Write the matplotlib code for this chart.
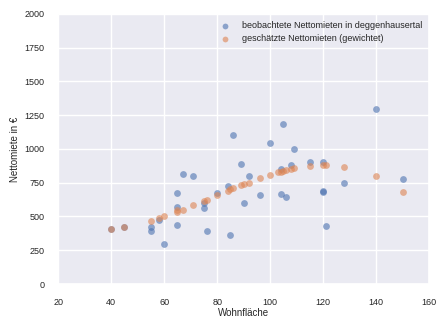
import matplotlib
matplotlib.use("Agg")
import matplotlib.pyplot as plt
import seaborn as sns

# beobachtete Werte
flaeche_beob = [40, 45, 55, 55, 58, 60, 65, 65, 65, 67, 71, 75, 75, 76, 80, 84, 85, 86,
                89, 90, 92, 96, 100, 104, 104, 105, 106, 108, 109, 115, 120, 120, 120,
                121, 128, 140, 150]
miete_beob = [405, 420, 425, 395, 475, 298, 676, 573, 438, 814, 799, 600, 561, 390, 677,
              727, 365, 1100, 887, 598, 799, 660, 1045, 850, 667, 1188, 647, 880, 998,
              900, 900, 692, 683, 426, 750, 1298, 775]

# geschätzte Werte (gewichtet)
flaeche_schaetz = [40, 45, 55, 58, 60, 65, 65, 67, 71, 75, 76, 80, 84, 85, 86, 89, 90, 92,
                   96, 100, 103, 104, 105, 106, 108, 109, 115, 120, 121, 128, 140, 150]
miete_schaetz = [408, 423, 470, 490, 500, 535, 545, 548, 585, 615, 621, 658, 689, 700, 708,
                 733, 740, 750, 782, 806, 826, 833, 838, 846, 853, 858, 875, 880, 880, 868,
                 801, 684]

sns.set_theme(style="darkgrid")
plt.rcParams['font.family'] = ['Liberation Sans', 'DejaVu Sans']

fig = plt.figure(figsize=(4.37, 3.2), dpi=100)
ax = fig.add_axes([0.133, 0.1125, 0.849, 0.844])

pal = sns.color_palette("deep")
ax.scatter(flaeche_beob, miete_beob, s=24, alpha=0.6, color=pal[0], linewidths=0,
           label="beobachtete Nettomieten in deggenhausertal")
ax.scatter(flaeche_schaetz, miete_schaetz, s=24, alpha=0.6, color=pal[1], linewidths=0,
           label="geschätzte Nettomieten (gewichtet)")

ax.set_xlim(20, 160)
ax.set_ylim(0, 2000)
ax.set_xticks(range(20, 161, 20))
ax.set_yticks(range(0, 2001, 250))
ax.tick_params(axis="y", labelsize=6.5, pad=4)
ax.tick_params(axis="x", labelsize=6.5, pad=4)
ax.set_xlabel("Wohnfläche", fontsize=7, labelpad=1)
ax.set_ylabel("Nettomiete in €", fontsize=7, labelpad=3)
ax.legend(loc="upper right", fontsize=6.5, frameon=False, handletextpad=0.9,
          borderaxespad=0.4, markerscale=0.85, labelspacing=0.45)

fig.savefig("out.png", dpi=100)
